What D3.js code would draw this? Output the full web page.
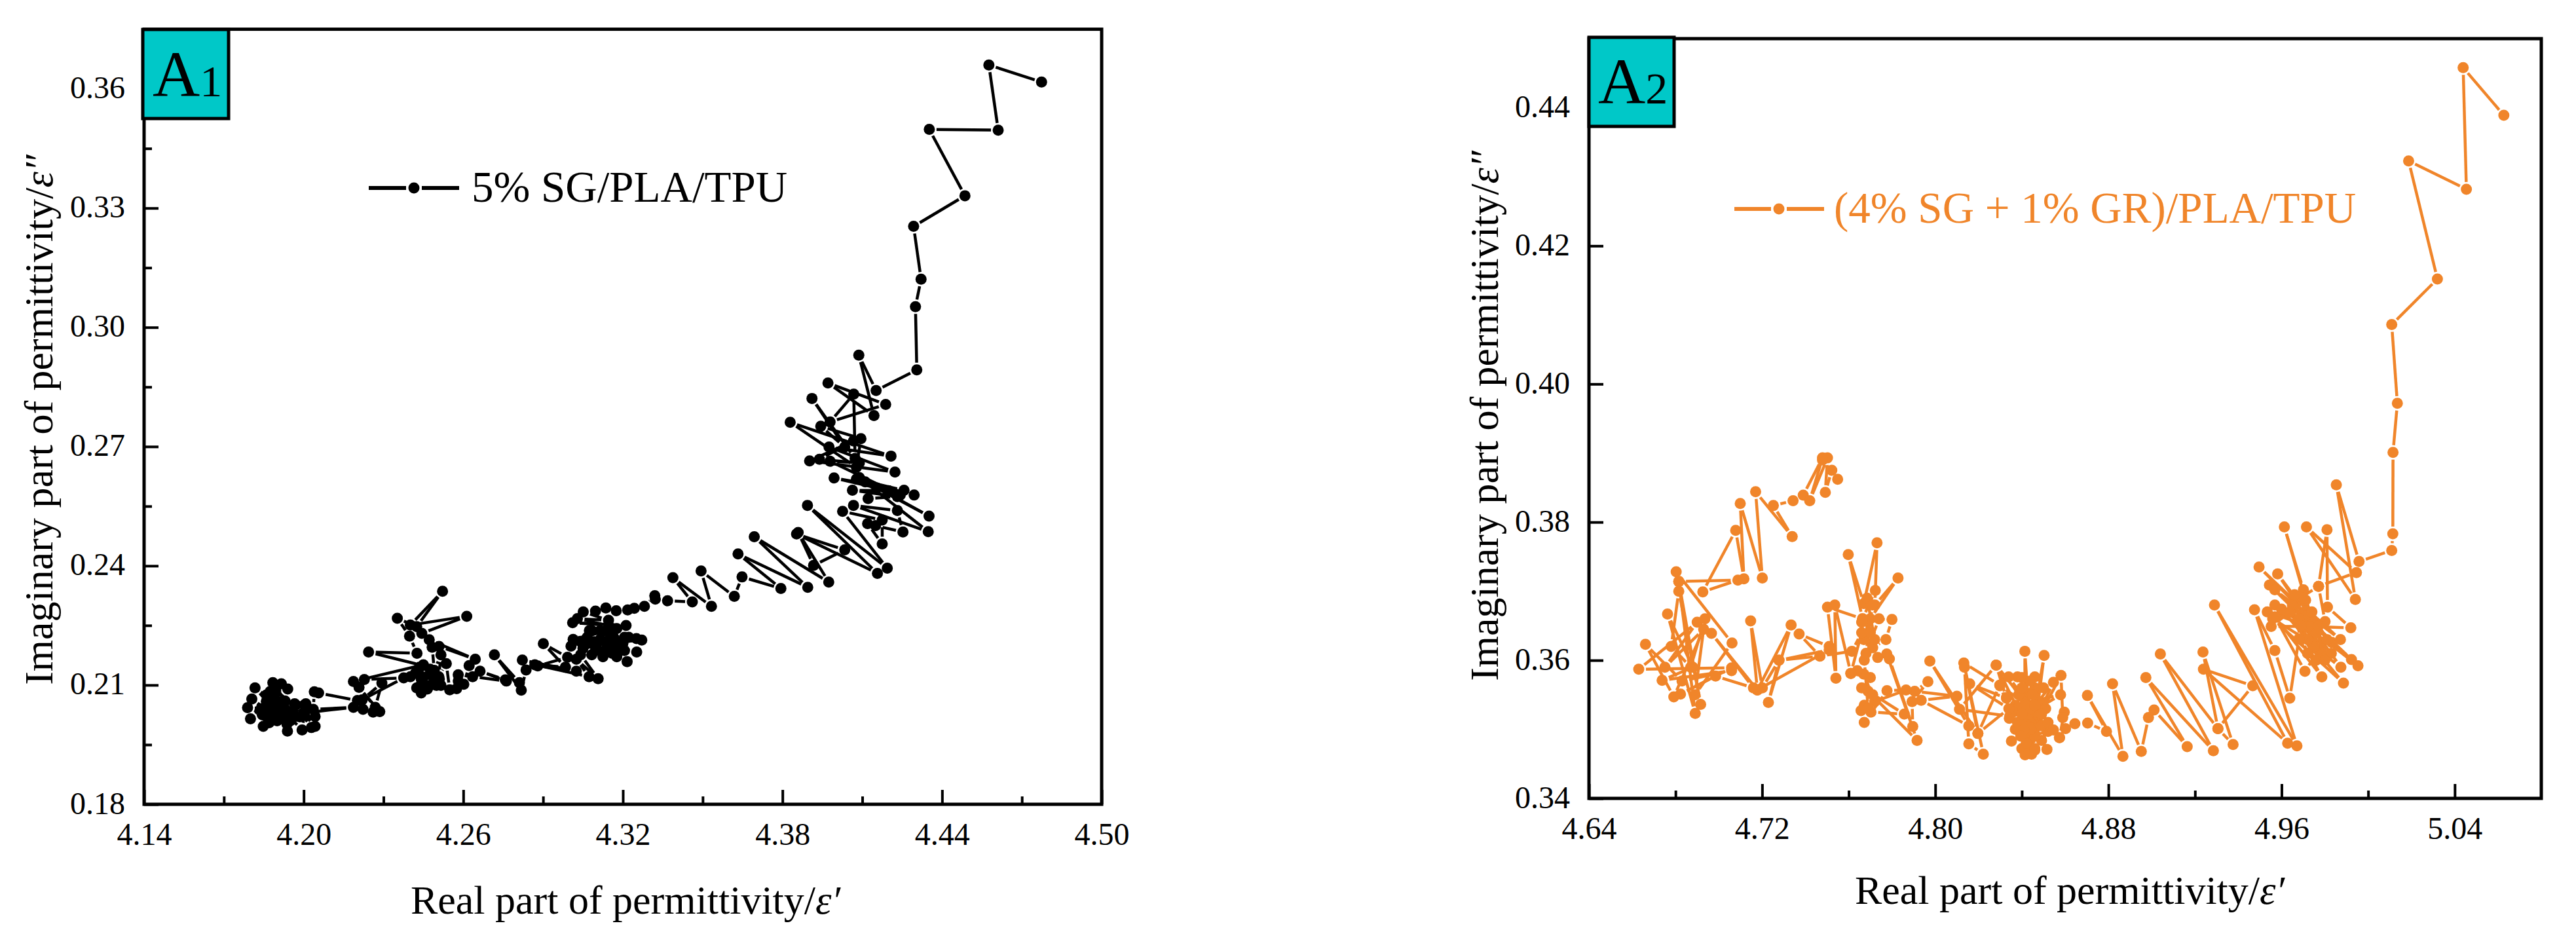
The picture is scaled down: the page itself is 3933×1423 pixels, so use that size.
<!doctype html>
<html lang="en">
<head>
<meta charset="UTF-8">
<title>Permittivity Cole-Cole plots</title>
<style type="text/css">
body {
  margin: 0;
  padding: 0;
  background: #fff;
}
svg {
  display: block;
  font-family: 'Liberation Serif', 'Times New Roman', serif;
}
</style>
<script src="https://cdn.jsdelivr.net/npm/d3@7"></script>
</head>
<body>
<div id="charts"></div>
<script type="text/javascript">

// [real part, imaginary part] in the order the line runs
var pointsA1 = [
  [4.4774,.3617],[4.4576,.3660],[4.4611,.3496],[4.4352,.3498],[4.4486,.3331],[4.4293,.3254],[4.4321,.3121],[4.4300,.3052],
  [4.4305,.2893],[4.4152,.2841],[4.4087,.2930],[4.4144,.2778],[4.3971,.2860],[4.4188,.2806],[4.3979,.2762],[4.4068,.2832],
  [4.4073,.2670],[4.3911,.2821],[4.4034,.2699],[4.3944,.2751],[4.4095,.2720],[4.4078,.2648],[4.3829,.2761],[4.4208,.2676],
  [4.3975,.2699],[4.4223,.2636],[4.3902,.2664],[4.4067,.2714],[4.3939,.2668],[4.4089,.2659],[4.3979,.2663],[4.4243,.2578],
  [4.4078,.2618],[4.4257,.2590],[4.3994,.2621],[4.4199,.2589],[4.4063,.2590],[4.4232,.2574],[4.4122,.2569],[4.4155,.2596],
  [4.4295,.2578],[4.4111,.2611],[4.4351,.2525],[4.4089,.2622],[4.4348,.2486],[4.4067,.2552],[4.4232,.2539],[4.4253,.2485],
  [4.4150,.2501],[4.4120,.2506],[4.4175,.2455],[4.4175,.2515],[4.4026,.2537],[4.4194,.2394],[4.3894,.2552],[4.4157,.2381],
  [4.3853,.2480],[4.4034,.2440],[4.3917,.2401],[4.3859,.2484],[4.3974,.2359],[4.3694,.2473],[4.3895,.2346],[4.3633,.2430],
  [4.3794,.2343],[4.3648,.2372],[4.3619,.2323],[4.3494,.2387],[4.3533,.2298],[4.3388,.2370],[4.3461,.2309],[4.3368,.2312],
  [4.3322,.2316],[4.3320,.2325],[4.3281,.2298],[4.3243,.2293],[4.3218,.2289],[4.3175,.2287],[4.3136,.2294],[4.3097,.2286],
  [4.3051,.2284],[4.3146,.2263],[4.3029,.2267],[4.3146,.2250],[4.3011,.2257],[4.3212,.2250],[4.3074,.2237],[4.3177,.2242],
  [4.3013,.2215],[4.3222,.2220],[4.3050,.2204],[4.3271,.2213],[4.3005,.2198],[4.3251,.2217],[4.3091,.2209],[4.3252,.2183],
  [4.3099,.2187],[4.3216,.2159],[4.3066,.2204],[4.3177,.2171],[4.3148,.2209],[4.3125,.2171],[4.3165,.2198],
  [4.3083,.2237],[4.3165,.2220],[4.3099,.2198],[4.3206,.2187],[4.3066,.2220],[4.3189,.2204],[4.3115,.2237],[4.3206,.2220],
  [4.3050,.2192],[4.3181,.2182],[4.3083,.2176],[4.3148,.2231],[4.3132,.2187],[4.3040,.2210],[4.3195,.2196],[4.3083,.2205],
  [4.3160,.2180],[4.3115,.2215],[4.3200,.2205],[4.3041,.2176],
  [4.3107,.2116],[4.3025,.2165],[4.3073,.2121],[4.2869,.2151],[4.2984,.2145],[4.2901,.2204],[4.2992,.2170],[4.2880,.2148],
  [4.3025,.2135],[4.2822,.2163],[4.2836,.2138],[4.2818,.2087],[4.2717,.2176],[4.2811,.2106],[4.2758,.2113],[4.2663,.2135],
  [4.2762,.2110],[4.2635,.2121],[4.2602,.2102],[4.2622,.2149],[4.2581,.2126],[4.2581,.2110],[4.2575,.2091],[4.2549,.2088],
  [4.2536,.2154],[4.2508,.2121],[4.2516,.2176],[4.2491,.2137],[4.2483,.2195],[4.2509,.2197],[4.2645,.2165],[4.2472,.2214],
  [4.2444,.2230],[4.2613,.2273],[4.2401,.2251],[4.2522,.2336],[4.2425,.2247],[4.2352,.2268],[4.2398,.2223],[4.2426,.2180],
  [4.2244,.2183],[4.2448,.2149],[4.2442,.2115],[4.2425,.2093],[4.2442,.2080],[4.2475,.2099],[4.2401,.2121],[4.2499,.2099],
  [4.2516,.2099],[4.2430,.2137],[4.2450,.2120],[4.2475,.2140],[4.2440,.2100],[4.2490,.2110],[4.2420,.2130],[4.2465,.2090],
  [4.2435,.2145],[4.2510,.2115],[4.2445,.2085],[4.2480,.2125],[4.2450,.2151],[4.2187,.2109],[4.2228,.2114],[4.2376,.2118],[4.2220,.2063],[4.2294,.2105],
  [4.2269,.2044],[4.2208,.2094],[4.2286,.2033],[4.2261,.2032],[4.2223,.2039],[4.2202,.2061],[4.2056,.2080],[4.2040,.2083],
  [4.2036,.2039],[4.2187,.2044],[4.2003,.2030],[4.2043,.2021],[4.2043,.1996],[4.1966,.2053],[4.2029,.1993],[4.2008,.2053],
  [4.1994,.1987],[4.1909,.2046],[4.1939,.1984],[4.1923,.2027],[4.1848,.1996],[4.1860,.2059],[4.1800,.2015],[4.1881,.2040],
  [4.1789,.2043],[4.1895,.2015],[4.1805,.2065],[4.1937,.2002],[4.1817,.2093],[4.1966,.2021],[4.1884,.2106],[4.1881,.2053],
  [4.1916,.2103],[4.1839,.2040],[4.1940,.2090],[4.1860,.2021],[4.1874,.2084],[4.1909,.2015],[4.1970,.2050],[4.1860,.2059],
  [4.2003,.2050],[4.1923,.2040],[4.1850,.2040],[4.1950,.2030],[4.1860,.2075],[4.1900,.2010],[4.1880,.2025],[4.1930,.2060],
  [4.1870,.2005],[4.1960,.2035],[4.1890,.2070],[4.1985,.2020],[4.1905,.2055],[4.1845,.2025],[4.1950,.2010],[4.1895,.2085],
  [4.1915,.2030],[4.1875,.2048]
];

var pointsA2 = [
  [5.0627,.4389],[5.0439,.4458],[5.0454,.4282],[5.0187,.4323],[5.0320,.4152],[5.0109,.4086],[5.0135,.3972],[5.0115,.3901],
  [5.0114,.3783],[5.0109,.3759],[4.9958,.3743],[4.9853,.3854],[4.9941,.3688],[4.9715,.3793],[4.9946,.3727],[4.9771,.3707],
  [4.9810,.3789],[4.9812,.3677],[4.9920,.3647],[4.9711,.3649],[4.9552,.3649],[4.9711,.3687],[4.9613,.3793],[4.9701,.3702],
  [4.9741,.3658],[4.9496,.3735],[4.9711,.3671],[4.9582,.3725],[4.9751,.3645],[4.9544,.3709],[4.9832,.3626],[4.9569,.3702],
  [4.9872,.3630],[4.9670,.3687],[4.9771,.3707],[4.9801,.3656],[4.9534,.3670],[4.9731,.3649],[4.9569,.3680],[4.9781,.3617],
  [4.9559,.3660],[4.9886,.3567],[4.9600,.3674],[4.9923,.3601],[4.9711,.3664],[4.9953,.3592],[4.9761,.3639],[4.9874,.3590],
  [4.9771,.3614],[4.9708,.3584],[4.9569,.3663],[4.9786,.3576],[4.9690,.3630],
  [4.9650,.3680],[4.9790,.3610],[4.9680,.3660],[4.9760,.3600],[4.9640,.3670],[4.9810,.3630],[4.9700,.3690],[4.9750,.3620],
  [4.9660,.3695],[4.9770,.3650],[4.9720,.3630],[4.9830,.3610],[4.9690,.3650],[4.9740,.3670],[4.9800,.3600],[4.9720,.3610],
  [4.9680,.3631],[4.9638,.3545],[4.9569,.3614],
  [4.9475,.3673],[4.9671,.3476],[4.9290,.3680],[4.9628,.3480],[4.9239,.3587],[4.9467,.3563],[4.9306,.3501],[4.9237,.3612],
  [4.9376,.3478],[4.9306,.3501],[4.9040,.3609],[4.9285,.3469],[4.8973,.3575],[4.9164,.3475],[4.9011,.3528],[4.8985,.3517],
  [4.8952,.3468],[4.8819,.3566],[4.8867,.3461],[4.8703,.3549],[4.8791,.3497],[4.8704,.3509],[4.8645,.3508],[4.8602,.3501],
  [4.8574,.3488],[4.8596,.3525],[4.8589,.3517],[4.8581,.3578],[4.8400,.3472],[4.8546,.3568],[4.8430,.3522],[4.8579,.3550],
  [4.8370,.3535],[4.8516,.3471],[4.8460,.3560],[4.8415,.3463],[4.8414,.3613],[4.8445,.3464],[4.8503,.3607],[4.8430,.3472],
  [4.8460,.3576],[4.8460,.3472],[4.8380,.3576],[4.8491,.3484],[4.8339,.3576],[4.8521,.3497],[4.8282,.3593],[4.8380,.3530],
  [4.8400,.3575],[4.8460,.3490],[4.8385,.3550],[4.8500,.3560],[4.8370,.3500],[4.8440,.3570],[4.8420,.3480],[4.8480,.3540],
  [4.8360,.3525],[4.8440,.3500],[4.8400,.3560],[4.8510,.3530],[4.8430,.3465],[4.8470,.3525],[4.8380,.3510],[4.8450,.3550],
  [4.8410,.3500],[4.8490,.3505],[4.8420,.3535],[4.8460,.3470],[4.8440,.3530],[4.8395,.3490],
  [4.8299,.3563],[4.8491,.3522],[4.8329,.3546],[4.8521,.3510],[4.8342,.3516],[4.8546,.3499],[4.8352,.3483],[4.8460,.3535],
  [4.8574,.3488],[4.8400,.3522],[4.8344,.3519],[4.8112,.3529],[4.8281,.3593],[4.8329,.3545],[4.8159,.3566],[4.8340,.3530],
  [4.8197,.3494],[4.8298,.3564],[4.8132,.3596],[4.8222,.3464],[4.8155,.3479],[4.8135,.3590],[4.8197,.3494],[4.7975,.3599],
  [4.8155,.3505],[4.7935,.3542],[4.8100,.3548],[4.7905,.3555],[4.7966,.3569],[4.7893,.3540],[4.7896,.3504],[4.7788,.3602],
  [4.7776,.3609],[4.7916,.3484],[4.7690,.3555],[4.7857,.3522],[4.7703,.3525],[4.7657,.3527],[4.7672,.3510],[4.7777,.3556],
  [4.7865,.3557],[4.7720,.3540],[4.7670,.3580],[4.7640,.3585],[4.7610,.3581],[4.7700,.3575],[4.7660,.3560],[4.7711,.3550],
  [4.7672,.3535],[4.7690,.3530],[4.7672,.3600],[4.7734,.3604],[4.7711,.3618],[4.7772,.3630],[4.7800,.3659],[4.7700,.3660],
  [4.7828,.3719],[4.7721,.3680],[4.7731,.3770],[4.7670,.3682],[4.7598,.3753],[4.7664,.3660],[4.7723,.3701],
  [4.7685,.3690],[4.7720,.3630],[4.7660,.3655],[4.7740,.3660],[4.7680,.3610],[4.7710,.3680],[4.7670,.3630],[4.7700,.3640],
  [4.7664,.3660],[4.7502,.3677],[4.7541,.3574],[4.7536,.3680],[4.7610,.3581],[4.7660,.3640],[4.7615,.3613],[4.7467,.3606],
  [4.7510,.3620],[4.7371,.3638],[4.7467,.3606],[4.7278,.3600],[4.7510,.3615],[4.7178,.3557],[4.7334,.3651],[4.7229,.3539],
  [4.7278,.3600],[4.7201,.3560],[4.7147,.3657],[4.7178,.3557],[4.6966,.3639],[4.7160,.3560],[4.6985,.3577],[4.6823,.3551],
  [4.7059,.3589],[4.6630,.3587],[4.6900,.3655],[4.6751,.3590],[4.6930,.3645],[4.6792,.3547],[4.6661,.3623],[4.6830,.3570],
  [4.7059,.3585],[4.6738,.3571],[4.6880,.3590],[4.6763,.3667],[4.6891,.3523],[4.6815,.3714],[4.6916,.3536],[4.6815,.3700],
  [4.6780,.3620],[4.6870,.3590],[4.6936,.3660],[4.6890,.3550],[4.7061,.3625],[4.6803,.3728],[4.6815,.3714],[4.7088,.3716],
  [4.6926,.3699],[4.7078,.3788],[4.7116,.3718],[4.7099,.3827],[4.7201,.3719],[4.7170,.3844],[4.7339,.3779],[4.7252,.3824],
  [4.7343,.3831],[4.7390,.3839],[4.7479,.3893],[4.7420,.3831],[4.7502,.3893],[4.7492,.3843],[4.7522,.3875],[4.7479,.3890],
  [4.7549,.3862]
];

var xDomainA1 = [4.14, 4.50];
var yDomainA1 = [0.18, 0.375];
var xTicksA1 = [4.14, 4.20, 4.26, 4.32, 4.38, 4.44, 4.50];
var xMinorA1 = [4.17, 4.23, 4.29, 4.35, 4.41, 4.47];
var yTicksA1 = [0.18, 0.21, 0.24, 0.27, 0.30, 0.33, 0.36];
var yMinorA1 = [0.195, 0.225, 0.255, 0.285, 0.315, 0.345];

var xDomainA2 = [4.64, 5.08];
var yDomainA2 = [0.34, 0.45];
var xTicksA2 = [4.64, 4.72, 4.80, 4.88, 4.96, 5.04];
var xMinorA2 = [4.68, 4.76, 4.84, 4.92, 5.00];
var yTicksA2 = [0.34, 0.36, 0.38, 0.40, 0.42, 0.44];
var yMinorA2 = [];

var W = 3933;
var H = 1423;
var TICK_FONT = 48;
var TITLE_FONT = 62;
var LEGEND_FONT = 67;
var markerR = 8.5;
var lineGap = 11;

function drawPanel(svg, opts) {
  var x = d3.scaleLinear().domain(opts.xDomain).range([opts.left, opts.right]);
  var y = d3.scaleLinear().domain(opts.yDomain).range([opts.bottom, opts.top]);

  function tickAxis(axis, values, size, withLabels, digits) {
    return axis.tickValues(values)
      .tickSizeInner(-size)
      .tickSizeOuter(0)
      .tickFormat(withLabels ? d3.format('.' + digits + 'f') : '');
  }

  var xg = svg.append('g').attr('transform', 'translate(0,' + opts.bottom + ')');
  xg.append('g').call(tickAxis(d3.axisBottom(x), opts.xMinor, 12, false, 2));
  xg.append('g').attr('class', 'major').call(tickAxis(d3.axisBottom(x), opts.xTicks, 22, true, 2));

  var yg = svg.append('g').attr('transform', 'translate(' + opts.left + ',0)');
  if (opts.yMinor.length) {
    yg.append('g').call(tickAxis(d3.axisLeft(y), opts.yMinor, 12, false, 2));
  }
  yg.append('g').attr('class', 'major').call(tickAxis(d3.axisLeft(y), opts.yTicks, 22, true, 2));

  svg.selectAll('.domain').remove();
  svg.selectAll('.tick line').attr('stroke', '#000').attr('stroke-width', 4);

  xg.selectAll('.major text')
    .attr('y', 62).attr('dy', 0)
    .style('font-size', TICK_FONT + 'px')
    .style('font-family', "'Liberation Serif', serif")
    .attr('fill', '#000');
  yg.selectAll('.major text')
    .attr('x', -29).attr('dy', 14)
    .style('font-size', TICK_FONT + 'px')
    .style('font-family', "'Liberation Serif', serif")
    .attr('fill', '#000');

  // frame
  svg.append('rect')
    .attr('x', opts.left).attr('y', opts.top)
    .attr('width', opts.right - opts.left)
    .attr('height', opts.bottom - opts.top)
    .attr('fill', 'none').attr('stroke', '#000').attr('stroke-width', 5);

  // segments stop short of the symbols, the way Origin draws them
  var segments = d3.pairs(opts.points).map(function(p) {
    var x0 = x(p[0][0]), y0 = y(p[0][1]), x1 = x(p[1][0]), y1 = y(p[1][1]);
    var len = Math.sqrt((x1 - x0) * (x1 - x0) + (y1 - y0) * (y1 - y0));
    if (len <= 2 * lineGap) return null;
    var ux = (x1 - x0) / len, uy = (y1 - y0) / len;
    return [[x0 + ux * lineGap, y0 + uy * lineGap], [x1 - ux * lineGap, y1 - uy * lineGap]];
  }).filter(function(s) { return s != null; });

  svg.append('g').selectAll('path').data(segments).enter()
    .append('path')
    .attr('d', d3.line())
    .attr('fill', 'none')
    .attr('stroke', opts.color)
    .attr('stroke-width', 4.5);

  svg.append('g').selectAll('circle').data(opts.points).enter()
    .append('circle')
    .attr('cx', function(d) { return x(d[0]); })
    .attr('cy', function(d) { return y(d[1]); })
    .attr('r', markerR)
    .attr('fill', opts.color);

  // panel tag
  svg.append('rect')
    .attr('x', opts.tag.x).attr('y', opts.tag.y)
    .attr('width', opts.tag.w).attr('height', opts.tag.h)
    .attr('fill', '#00C8C8').attr('stroke', '#000').attr('stroke-width', 5);
  var tag = svg.append('text')
    .attr('x', opts.tag.textX).attr('y', opts.tag.base)
    .attr('fill', '#000');
  tag.append('tspan').style('font-size', '100px').text('A');
  tag.append('tspan').style('font-size', '68px').text(opts.tag.sub);

  // legend
  var lg = opts.legend;
  svg.append('line').attr('x1', lg.x0).attr('x2', lg.mark - 12).attr('y1', lg.y).attr('y2', lg.y)
    .attr('stroke', opts.color).attr('stroke-width', 6);
  svg.append('line').attr('x1', lg.mark + 12).attr('x2', lg.x1).attr('y1', lg.y).attr('y2', lg.y)
    .attr('stroke', opts.color).attr('stroke-width', 6);
  svg.append('circle').attr('cx', lg.mark).attr('cy', lg.y).attr('r', markerR).attr('fill', opts.color);
  svg.append('text')
    .attr('x', lg.textX).attr('y', lg.base)
    .attr('fill', opts.color)
    .style('font-size', LEGEND_FONT + 'px')
    .text(lg.label);

  // axis titles
  var xt = svg.append('text')
    .attr('x', opts.xTitle.x).attr('y', opts.xTitle.y)
    .attr('text-anchor', 'middle')
    .attr('fill', '#000')
    .style('font-size', TITLE_FONT + 'px');
  xt.append('tspan').text('Real part of permittivity/');
  xt.append('tspan').style('font-style', 'italic').text('\u03B5\u2032');

  var yt = svg.append('text')
    .attr('transform', 'translate(' + opts.yTitle.x + ',' + opts.yTitle.y + ') rotate(-90)')
    .attr('text-anchor', 'middle')
    .attr('fill', '#000')
    .style('font-size', TITLE_FONT + 'px');
  yt.append('tspan').text('Imaginary part of permittivity/');
  yt.append('tspan').style('font-style', 'italic').text('\u03B5\u2033');
}

function init() {
  var svg = d3.select('#charts').append('svg')
    .attr('width', W).attr('height', H);

  drawPanel(svg, {
    left: 220, right: 1682, top: 44.6, bottom: 1228,
    xDomain: xDomainA1, yDomain: yDomainA1,
    xTicks: xTicksA1, xMinor: xMinorA1, yTicks: yTicksA1, yMinor: yMinorA1,
    points: pointsA1, color: '#000',
    tag: { x: 218, y: 45, w: 131, h: 136, textX: 233, base: 147, sub: '1' },
    legend: { x0: 563, x1: 701, mark: 632, y: 287, textX: 720, base: 308, label: '5% SG/PLA/TPU' },
    xTitle: { x: 955, y: 1395 },
    yTitle: { x: 80, y: 641 }
  });

  drawPanel(svg, {
    left: 2426, right: 3880, top: 59, bottom: 1219,
    xDomain: xDomainA2, yDomain: yDomainA2,
    xTicks: xTicksA2, xMinor: xMinorA2, yTicks: yTicksA2, yMinor: yMinorA2,
    points: pointsA2, color: '#F0852A',
    tag: { x: 2426, y: 57, w: 130, h: 136, textX: 2440, base: 158, sub: '2' },
    legend: { x0: 2648, x1: 2785, mark: 2716, y: 319, textX: 2800, base: 340, label: '(4% SG + 1% GR)/PLA/TPU' },
    xTitle: { x: 3160, y: 1380 },
    yTitle: { x: 2287, y: 635 }
  });
}

window.onload = init;

</script>
</body>
</html>
